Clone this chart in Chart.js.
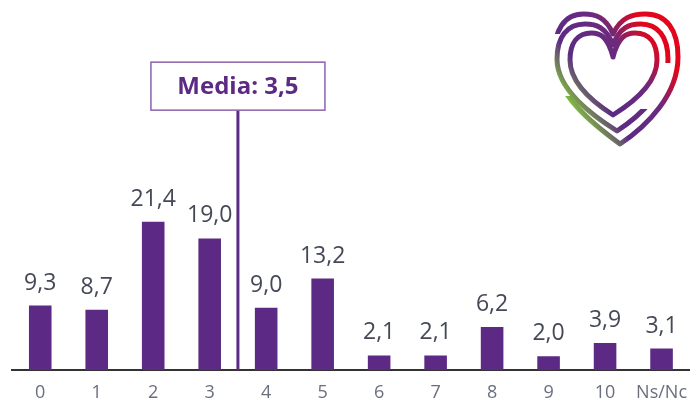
<!DOCTYPE html>
<html>
<head>
<meta charset="utf-8">
<script src="https://cdn.jsdelivr.net/npm/chart.js@4/dist/chart.umd.min.js"></script>
<style>
	html, body { margin: 0; padding: 0; background: #fff; }
	#wrap { width: 699px; height: 402px; }
</style>
</head>
<body>
<div id="wrap"><canvas id="myChart" width="699" height="402"></canvas></div>
<script>
const categories = ["0", "1", "2", "3", "4", "5", "6", "7", "8", "9", "10", "Ns/Nc"];
const values = [9.3, 8.7, 21.4, 19.0, 9.0, 13.2, 2.1, 2.1, 6.2, 2.0, 3.9, 3.1];
const meanValue = 3.5;
const meanText = "Media: 3,5";

const purple = "#5c2a84";
const fontFamily = "'Open Sans', 'DejaVu Sans', sans-serif";

function fmt(v) {
	return v.toFixed(1).replace(".", ",");
}

// value labels above bars
const valueLabels = {
	id: "valueLabels",
	afterDatasetsDraw(chart) {
		const ctx = chart.ctx;
		const meta = chart.getDatasetMeta(0);
		ctx.save();
		ctx.font = "400 23px " + fontFamily;
		ctx.fillStyle = "#454857";
		ctx.textAlign = "center";
		ctx.textBaseline = "alphabetic";
		meta.data.forEach((bar, i) => {
			ctx.fillText(fmt(values[i]), bar.x, bar.y - 16);
		});
		ctx.restore();
	},
};

// mean marker: vertical line + boxed label
const meanMarker = {
	id: "meanMarker",
	afterDatasetsDraw(chart) {
		const ctx = chart.ctx;
		const x = chart.scales.x.getPixelForValue(meanValue);
		const yMid = chart.scales.y.getPixelForValue(41);
		const boxW = 174;
		const boxH = 48;
		const boxTop = yMid - boxH / 2;
		ctx.save();
		ctx.strokeStyle = purple;
		ctx.lineWidth = 3;
		ctx.beginPath();
		ctx.moveTo(x, boxTop + boxH);
		ctx.lineTo(x, chart.chartArea.bottom);
		ctx.stroke();

		ctx.fillStyle = "#fff";
		ctx.fillRect(x - boxW / 2, boxTop, boxW, boxH);
		ctx.strokeStyle = "#8a63ad";
		ctx.lineWidth = 1.5;
		ctx.strokeRect(x - boxW / 2, boxTop, boxW, boxH);

		ctx.fillStyle = purple;
		ctx.font = "700 24px " + fontFamily;
		ctx.textAlign = "center";
		ctx.textBaseline = "middle";
		ctx.fillText(meanText, x, yMid + 1);
		ctx.restore();
	},
};

// heart logo (decoration, top right)
function heartPath(ctx, h) {
	const wl = h.cx - h.L;
	const wr = h.R - h.cx;
	const H = h.B - h.T;
	ctx.beginPath();
	ctx.moveTo(h.cx, h.D);
	ctx.bezierCurveTo(h.cx - 0.12 * wl, h.T + 0.15 * (h.D - h.T), h.cx - 0.3 * wl, h.T, h.cx - 0.5 * wl, h.T);
	ctx.bezierCurveTo(h.cx - 0.82 * wl, h.T, h.L, h.T + 0.12 * H, h.L, h.T + 0.33 * H);
	ctx.bezierCurveTo(h.L, h.T + 0.62 * H, h.tipX - 0.42 * wl, h.B - 0.14 * H, h.tipX, h.B);
	ctx.bezierCurveTo(h.tipX + 0.42 * wr, h.B - 0.14 * H, h.R, h.T + 0.62 * H, h.R, h.T + 0.33 * H);
	ctx.bezierCurveTo(h.R, h.T + 0.12 * H, h.cx + 0.82 * wr, h.T, h.cx + 0.5 * wr, h.T);
	ctx.bezierCurveTo(h.cx + 0.3 * wr, h.T, h.cx + 0.12 * wr, h.T + 0.15 * (h.D - h.T), h.cx, h.D);
}

const heartLogo = {
	id: "heartLogo",
	afterDraw(chart) {
		const ctx = chart.ctx;
		const grad = ctx.createLinearGradient(555, 115, 675, 30);
		grad.addColorStop(0, "#8dc63f");
		grad.addColorStop(0.14, "#7fb542");
		grad.addColorStop(0.32, "#5c2a85");
		grad.addColorStop(0.62, "#6b2a7e");
		grad.addColorStop(0.85, "#e3051b");
		grad.addColorStop(1, "#e3051b");

		const rings = [
			{ L: 554, R: 678, T: 14, D: 34, B: 144, cx: 613, tipX: 620, gap: [540, 34, 36, 62] },
			{ L: 557, R: 668, T: 24, D: 45, B: 131, cx: 613, tipX: 617, gap: [636, 63, 50, 46] },
			{ L: 570, R: 657, T: 33, D: 57, B: 115, cx: 613, tipX: 613, gap: null },
		];
		ctx.save();
		ctx.lineWidth = 5;
		ctx.lineCap = "round";
		ctx.lineJoin = "round";
		ctx.strokeStyle = grad;
		rings.forEach((r) => {
			ctx.save();
			if (r.gap) {
				ctx.beginPath();
				ctx.rect(0, 0, 699, 402);
				ctx.rect(r.gap[0], r.gap[1], r.gap[2], r.gap[3]);
				ctx.clip("evenodd");
			}
			heartPath(ctx, r);
			ctx.stroke();
			ctx.restore();
		});
		ctx.restore();
	},
};

const ctx = document.getElementById("myChart").getContext("2d");
new Chart(ctx, {
	type: "bar",
	data: {
		labels: categories,
		datasets: [
			{
				data: values,
				backgroundColor: purple,
				barPercentage: 0.4,
				categoryPercentage: 1.0,
			},
		],
	},
	options: {
		responsive: false,
		animation: false,
		devicePixelRatio: 1,
		layout: { padding: { left: 12, right: 0, top: 10, bottom: 0 } },
		plugins: {
			legend: { display: false },
			tooltip: { enabled: false },
		},
		scales: {
			x: {
				grid: { display: false, drawTicks: false },
				border: { display: true, color: "#333", width: 2 },
				ticks: {
					color: "#6b6e7e",
					font: { family: fontFamily, size: 18 },
					padding: 12,
					maxRotation: 0,
				},
				afterFit(scale) {
					scale.height = 32;
				},
			},
			y: {
				display: false,
				min: 0,
				max: 52,
			},
		},
	},
	plugins: [valueLabels, meanMarker, heartLogo],
});
</script>
</body>
</html>
